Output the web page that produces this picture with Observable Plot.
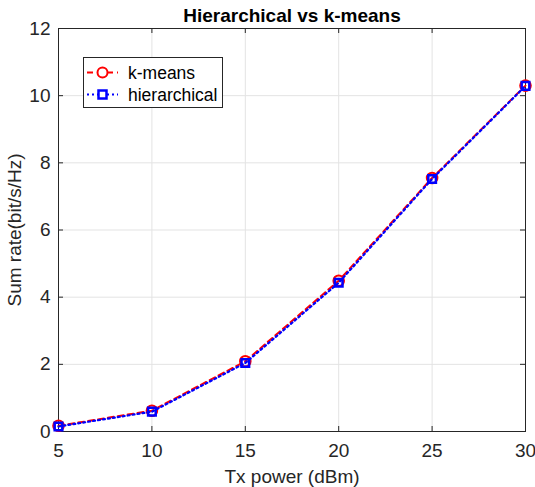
<!DOCTYPE html>
<html>
<head>
<meta charset="utf-8">
<script src="https://cdn.jsdelivr.net/npm/d3@7"></script>
<script src="https://cdn.jsdelivr.net/npm/@observablehq/plot@0.6"></script>
<style>
  html, body { margin: 0; padding: 0; background: white; }
  #wrap { position: relative; width: 535px; height: 487px; }
  #legend { position: absolute; left: 0; top: 0; }
</style>
</head>
<body>
<div id="wrap"></div>
<script>
const txPower = [5, 10, 15, 20, 25, 30];
const kmeans = [0.17, 0.62, 2.09, 4.49, 7.55, 10.3];
const hierarchical = [0.15, 0.59, 2.04, 4.43, 7.52, 10.29];
const xTicks = [5, 10, 15, 20, 25, 30];
const yTicks = [0, 2, 4, 6, 8, 10, 12];
const seriesNames = ["k-means", "hierarchical"];
const titleText = "Hierarchical vs k-means";
const xLabel = "Tx power (dBm)";
const yLabel = "Sum rate(bit/s/Hz)";

const kData = txPower.map((x, i) => ({x, y: kmeans[i]}));
const hData = txPower.map((x, i) => ({x, y: hierarchical[i]}));

const font = "'Liberation Sans', Arial, Helvetica, sans-serif";
const axisColor = "#262626";
const W = 535, H = 487, mL = 58, mR = 10, mT = 28, mB = 56;
const pw = W - mL - mR, ph = H - mT - mB, tk = 5;

const chart = Plot.plot({
  width: W, height: H,
  marginLeft: mL, marginRight: mR, marginTop: mT, marginBottom: mB,
  x: {domain: [5, 30]},
  y: {domain: [0, 12]},
  style: {fontFamily: font, fontSize: "19px", color: axisColor, background: "white"},
  marks: [
    Plot.gridX(xTicks, {stroke: "#e3e3e3", strokeOpacity: 1}),
    Plot.gridY(yTicks, {stroke: "#e3e3e3", strokeOpacity: 1}),
    Plot.ruleX(xTicks, {x: d => d, insetTop: ph - tk, stroke: axisColor}),
    Plot.ruleX(xTicks, {x: d => d, insetBottom: ph - tk, stroke: axisColor}),
    Plot.ruleY(yTicks, {y: d => d, insetRight: pw - tk, stroke: axisColor}),
    Plot.ruleY(yTicks, {y: d => d, insetLeft: pw - tk, stroke: axisColor}),
    Plot.frame({stroke: axisColor}),
    Plot.axisX(xTicks, {tickSize: 0, tickPadding: 12, label: xLabel, labelAnchor: "center", labelArrow: "none", labelOffset: 51, fontSize: 19}),
    Plot.axisY(yTicks, {tickSize: 0, tickPadding: 8, label: yLabel, labelAnchor: "center", labelArrow: "none", labelOffset: 51, fontSize: 19}),
    Plot.line(kData, {x: "x", y: "y", stroke: "#ff0000", strokeWidth: 2, strokeDasharray: "6,4"}),
    Plot.dot(kData, {x: "x", y: "y", r: 5.3, stroke: "#ff0000", strokeWidth: 2, fill: "none"}),
    Plot.line(hData, {x: "x", y: "y", stroke: "#0000ff", strokeWidth: 2.2, strokeDasharray: "2,3"}),
    Plot.dot(hData, {x: "x", y: "y", r: 4.3, symbol: "square", stroke: "#0000ff", strokeWidth: 2.5, fill: "none"}),
    Plot.text([titleText], {frameAnchor: "top", dy: -20, fontWeight: "bold", fontSize: 19, fill: "#000"})
  ]
});
document.getElementById("wrap").appendChild(chart);

// Legend overlay
const lg = d3.select("#wrap").append("svg").attr("id", "legend").attr("width", W).attr("height", H)
  .style("pointer-events", "none");
lg.append("rect").attr("x", 83.5).attr("y", 57.5).attr("width", 139).attr("height", 50)
  .attr("fill", "white").attr("stroke", axisColor).attr("stroke-width", 1);
const rows = [
  {name: seriesNames[0], color: "#ff0000", dash: "6,4", sym: "circle", y: 72.5},
  {name: seriesNames[1], color: "#0000ff", dash: "2,3", sym: "square", y: 94.5}
];
rows.forEach(r => {
  lg.append("line").attr("x1", 87).attr("x2", 118).attr("y1", r.y).attr("y2", r.y)
    .attr("stroke", r.color).attr("stroke-width", 2).attr("stroke-dasharray", r.dash);
  if (r.sym === "circle") {
    lg.append("circle").attr("cx", 102.5).attr("cy", r.y).attr("r", 5)
      .attr("fill", "white").attr("stroke", r.color).attr("stroke-width", 2);
  } else {
    lg.append("rect").attr("x", 98.5).attr("y", r.y - 4).attr("width", 8).attr("height", 8)
      .attr("fill", "white").attr("stroke", r.color).attr("stroke-width", 2.5);
  }
  lg.append("text").attr("x", 128).attr("y", r.y).attr("dy", "0.35em")
    .attr("font-family", font).attr("font-size", "17.5px").attr("fill", "#000").text(r.name);
});
</script>
</body>
</html>
